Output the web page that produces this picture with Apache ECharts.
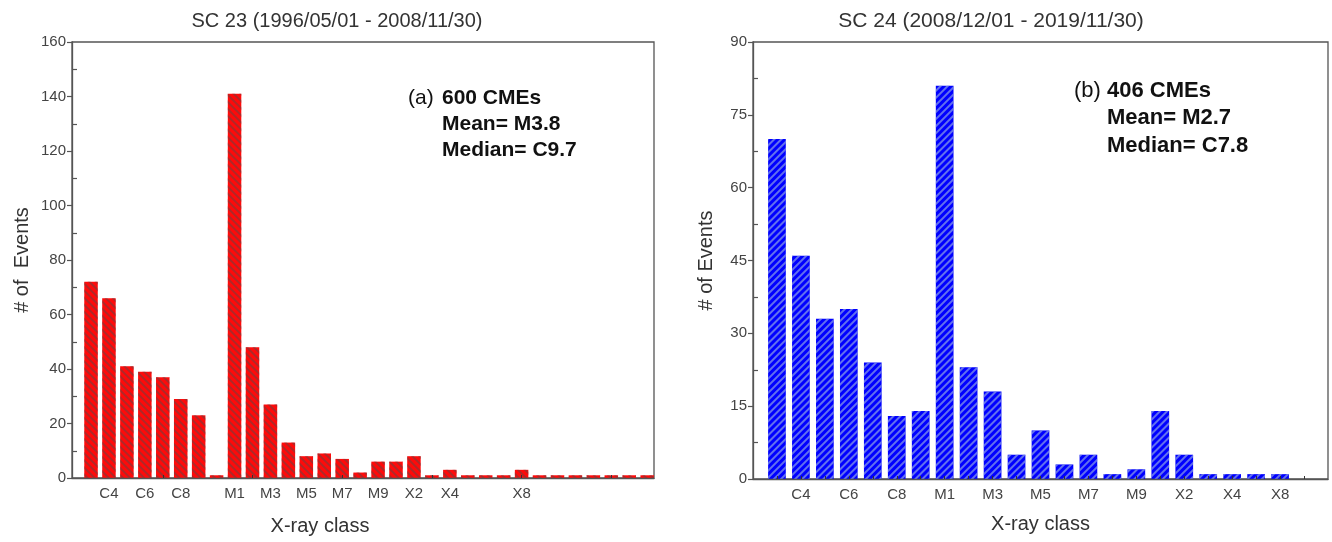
<!DOCTYPE html>
<html>
<head>
<meta charset="utf-8">
<script src="https://cdn.jsdelivr.net/npm/echarts@6/dist/echarts.min.js"></script>
<style>
html,body{margin:0;padding:0;background:#fff;}
#c{width:1332px;height:542px;}
</style>
</head>
<body>
<div id="c"></div>
<script>
// ---- data ----
const leftCategories = ['C3','C4','C5','C6','C7','C8','C9','C10','M1','M2','M3','M4','M5','M6','M7','M8','M9','X1','X2','X3','X4','X5','X6','X7','X8','X9','X10','X11','X12','X13','X14','X15'];
const leftCounts = [72,66,41,39,37,29,23,1,141,48,27,13,8,9,7,2,6,6,8,1,3,1,1,1,3,1,1,1,1,1,1,1];
const leftTickLabels = ['C4','C6','C8','M1','M3','M5','M7','M9','X2','X4','X8'];
const leftYTicks = [0,20,40,60,80,100,120,140,160];

const rightCategories = ['C3','C4','C5','C6','C7','C8','C9','M1','M2','M3','M4','M5','M6','M7','M8','M9','X1','X2','X3','X4','X6','X8'];
const rightCounts = [70,46,33,35,24,13,14,81,23,18,5,10,3,5,1,2,14,5,1,1,1,1];
const rightTickLabels = ['C4','C6','C8','M1','M3','M5','M7','M9','X2','X4','X8'];
const rightYTicks = [0,15,30,45,60,75,90];

const leftTitle = 'SC 23 (1996/05/01 - 2008/11/30)';
const rightTitle = 'SC 24 (2008/12/01 - 2019/11/30)';

// ---- build ----
const FONT = '"Liberation Sans", Arial, Helvetica, sans-serif';
const FRAME = '#555';
const LABEL = '#444';

function pairs(vals){ return vals.map((v,i)=>[i,v]); }
function idxOf(cats, labels){ return labels.map(l=>cats.indexOf(l)); }
function range(a,b){ const r=[]; for(let i=a;i<=b;i++) r.push(i); return r; }

const leftLabelIdx = idxOf(leftCategories, leftTickLabels);
const rightLabelIdx = idxOf(rightCategories, rightTickLabels);

function xAxisDef(gridIndex, cats, labelIdx, min, max, tickVals, nameGap, namePad){
  return {
    type:'value', gridIndex, min, max, z:5,
    axisLine:{show:true, onZero:false, lineStyle:{color:FRAME, width:1.3}},
    splitLine:{show:false},
    axisTick:{show:true, inside:true, length:3, customValues:tickVals, lineStyle:{color:'#333', width:1}},
    axisLabel:{show:true, customValues:labelIdx, margin:8, color:LABEL, fontFamily:FONT, fontSize:15,
      formatter:(v)=>cats[Math.round(v)] || ''},
    name:'X-ray class', nameLocation:'middle', nameGap,
    nameTextStyle:{color:'#333', fontFamily:FONT, fontSize:20, padding:namePad}
  };
}
function yAxisMain(gridIndex, max, ticks, nameText, nameGap){
  return {
    type:'value', gridIndex, min:0, max, position:'left',
    axisLine:{show:true, onZero:false, lineStyle:{color:FRAME, width:1.3}},
    splitLine:{show:false},
    axisTick:{show:true, inside:false, length:5, customValues:ticks, lineStyle:{color:FRAME, width:1.2}},
    axisLabel:{show:true, customValues:ticks, margin:6, color:LABEL, fontFamily:FONT, fontSize:15},
    name:nameText, nameLocation:'middle', nameGap, nameRotate:90,
    nameTextStyle:{color:'#333', fontFamily:FONT, fontSize:20}
  };
}
function yAxisMinor(gridIndex, max, ticks){
  return {
    type:'value', gridIndex, min:0, max, position:'left',
    axisLine:{show:false, onZero:false}, splitLine:{show:false},
    axisTick:{show:true, inside:true, length:5, customValues:ticks, lineStyle:{color:FRAME, width:1.2}},
    axisLabel:{show:false}
  };
}
function midTicks(ticks){ const r=[]; for(let i=0;i<ticks.length-1;i++) r.push((ticks[i]+ticks[i+1])/2); return r; }

const option = {
  backgroundColor:'#fff',
  animation:false,
  title:[
    {text:leftTitle, left:332, top:6, textAlign:'center',
     textStyle:{color:'#333', fontFamily:FONT, fontSize:20, fontWeight:'normal'}},
    {text:rightTitle, left:986, top:6, textAlign:'center',
     textStyle:{color:'#333', fontFamily:FONT, fontSize:21, fontWeight:'normal'}}
  ],
  grid:[
    {left:72, right:678, top:42, bottom:64, show:true, borderColor:FRAME, borderWidth:1.3, backgroundColor:'transparent'},
    {left:753, right:4, top:42, bottom:63, show:true, borderColor:FRAME, borderWidth:1.3, backgroundColor:'transparent'}
  ],
  xAxis:[
    xAxisDef(0, leftCategories, leftLabelIdx, -1.06, 31.38, [4,9,14,19,24,29], 38, [0,86,0,0]),
    xAxisDef(1, rightCategories, rightLabelIdx, -1, 23, range(0,22), 35, 0)
  ],
  yAxis:[
    yAxisMain(0, 160, leftYTicks, '# of  Events', 40),
    yAxisMinor(0, 160, midTicks(leftYTicks)),
    yAxisMain(1, 90, rightYTicks, '# of Events', 37),
    yAxisMinor(1, 90, midTicks(rightYTicks))
  ],
  series:[
    {type:'bar', xAxisIndex:0, yAxisIndex:0, barWidth:13.5, data:pairs(leftCounts),
     itemStyle:{color:'#ff0a0a',
       decal:{symbol:'rect', symbolSize:1, dashArrayX:[1,0], dashArrayY:[1.2,2.4], rotation:Math.PI/4, color:'rgba(120,60,60,0.6)'}}},
    {type:'bar', xAxisIndex:1, yAxisIndex:2, barWidth:17.7, data:pairs(rightCounts),
     itemStyle:{color:'#0000ff',
       decal:{symbol:'rect', symbolSize:1, dashArrayX:[1,0], dashArrayY:[1.3,2.1], rotation:-Math.PI/4, color:'rgba(140,160,230,0.7)'}}}
  ],
  graphic:[
    {type:'text', left:408, top:88, style:{text:'(a)', fill:'#111', font:'21px '+FONT}},
    {type:'text', left:442, top:88, style:{text:'600 CMEs', fill:'#111', font:'bold 21px '+FONT}},
    {type:'text', left:442, top:114, style:{text:'Mean= M3.8', fill:'#111', font:'bold 21px '+FONT}},
    {type:'text', left:442, top:140, style:{text:'Median= C9.7', fill:'#111', font:'bold 21px '+FONT}},
    {type:'text', left:1074, top:80, style:{text:'(b)', fill:'#111', font:'22px '+FONT}},
    {type:'text', left:1107, top:80, style:{text:'406 CMEs', fill:'#111', font:'bold 22px '+FONT}},
    {type:'text', left:1107, top:107, style:{text:'Mean= M2.7', fill:'#111', font:'bold 22px '+FONT}},
    {type:'text', left:1107, top:135, style:{text:'Median= C7.8', fill:'#111', font:'bold 22px '+FONT}}
  ]
};
const chart = echarts.init(document.getElementById('c'), null, {renderer:'canvas'});
chart.setOption(option);
</script>
</body>
</html>
